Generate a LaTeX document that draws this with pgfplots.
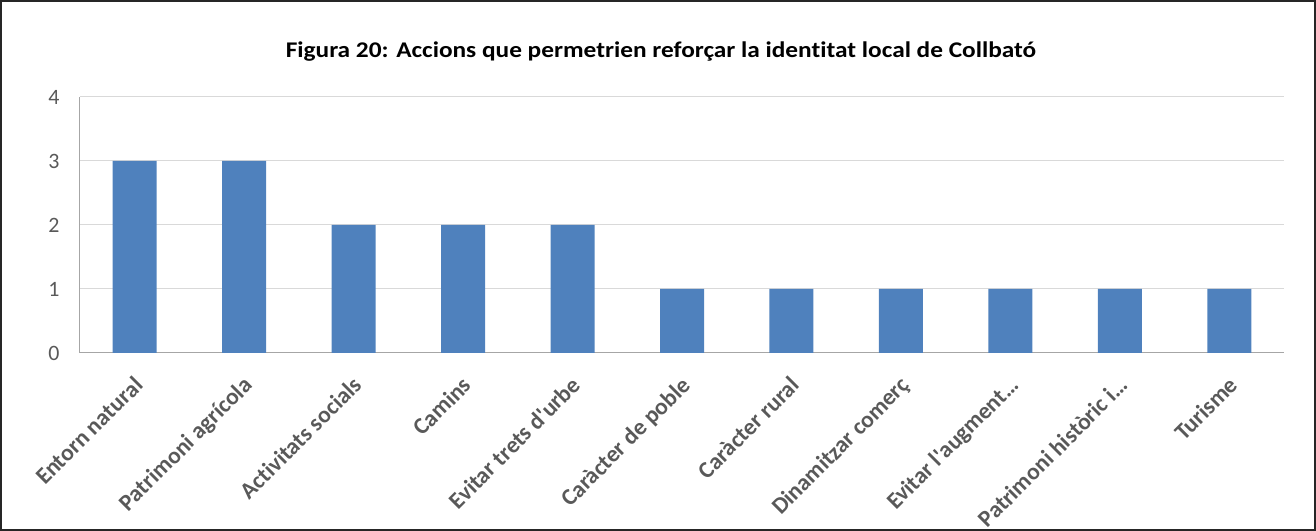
\documentclass[border=0pt]{standalone}
\usepackage{pgfplots}
\pgfplotsset{compat=1.18}
\usepackage{fontspec}
\setmainfont[Ligatures={NoCommon}]{Carlito}
\definecolor{barblue}{HTML}{4F81BD}
\definecolor{txt}{HTML}{595959}
\definecolor{gridc}{HTML}{D9D9D9}
\definecolor{axc}{HTML}{A6A6A6}
\begin{document}
\begin{tikzpicture}[x=1bp,y=1bp]
\draw[line width=2bp, black!85] (-79,-177) rectangle (1235,352);
\begin{axis}[
  at={(0,0)}, anchor=south west,
  scale only axis, width=1204bp, height=256bp,
  xmin=-0.5, xmax=10.5, ymin=0, ymax=4,
  ytick={0,1,2,3,4},
  xtick={0,...,10},
  xticklabels={Entorn natural, Patrimoni agrícola, Activitats socials, Camins, Evitar trets d\textquotesingle urbe, Caràcter de poble, Caràcter rural, Dinamitzar comerç, Evitar l\textquotesingle augment…, Patrimoni històric i…, Turisme},
  /pgf/number format/assume math mode=true,
  major tick length=0pt,
  ymajorgrids, grid style={gridc, line width=1bp},
  axis x line*=bottom, axis y line*=left,
  axis line style={axc, line width=1bp, -},
  yticklabel style={font=\fontsize{22}{26}\selectfont, text=txt, xshift=-17bp},
  xticklabel style={font=\bfseries\fontsize{23.5}{26}\selectfont, text=txt, rotate=45, anchor=north east, inner sep=0pt, xshift=-17bp, yshift=-14bp},
  ybar, bar width=44bp,
  clip=false,
]
\addplot[fill=barblue, draw=none] coordinates {(0,3) (1,3) (2,2) (3,2) (4,2) (5,1) (6,1) (7,1) (8,1) (9,1) (10,1)};
\end{axis}
\node[font=\bfseries\fontsize{22.5}{26}\selectfont] at (581,301) {\scalebox{1.13}[1]{Figura 20: Accions que permetrien reforçar la identitat local de Collbató}};
\end{tikzpicture}
\end{document}
